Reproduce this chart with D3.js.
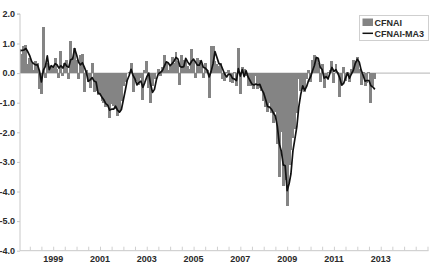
<!DOCTYPE html>
<html><head><meta charset="utf-8">
<script src="https://cdn.jsdelivr.net/npm/d3@7"></script>
<style>body{margin:0;background:#fff}svg{display:block}text{font-family:"Liberation Sans",Arial,sans-serif;font-weight:bold;fill:#2a2a2a}</style>
</head><body><svg id="c" width="437" height="266"></svg>
<script>
// monthly data, first value = Aug 1997, last = Oct 2012
const startYear = 1997, startMonth = 7; // 0-based month (Aug)
const cfnai = [
  0.80, 0.65, 0.90, 0.95, 0.30,
  0.50, 0.35, 0.10, 0.40, 0.35, -0.55, -0.70, 1.55, -0.15, 0.35, 0.15, 0.25,
  0.20, 0.50, 0.15, -0.15, 0.75, -0.10, 0.35, 0.45, -0.20, 1.10, 0.55, 0.85,
  0.45, -0.20, 0.60, 0.65, -0.65, 0.10, -0.30, -0.50, 0.35, -0.65, -0.60, -0.75,
  -0.75, -0.95, -1.00, -1.15, -1.10, -1.50, -1.05, -1.10, -1.20, -1.45, -1.30, -0.95,
  -0.45, -0.30, 0.00, 0.05, 0.35, -0.65, -0.30, -0.25, -0.40, -0.15, -0.90, 0.10,
  0.40, -0.50, -1.00, -0.45, -0.20, 0.00, 0.15, -0.10, 0.20, 0.60, 0.35, 0.10,
  0.30, 0.55, 0.35, 0.70, 0.40, -0.40, 0.60, 0.45, 0.45, 0.25, 0.15, 0.80,
  0.45, -0.15, 0.50, 0.45, 0.30, -0.15, 0.35, 0.10, -0.85, 0.90, 0.90, 0.40,
  0.30, 0.25, 0.35, -0.20, -0.25, 0.05, 0.10, -0.30, -0.35, 0.05, -0.45, 0.85,
  -0.70, 0.20, 0.15, -0.10, -0.45, -0.20, -0.45, -0.55, -0.10, -0.55, -0.50, -0.60,
  -0.95, -1.15, -1.30, -1.00, -1.35, -1.70, -1.30, -2.40, -3.50, -2.00, -3.80, -3.60,
  -4.50, -3.10, -2.60, -2.20, -1.90, -1.35, -0.20, -0.60, -0.50, -0.65, -0.20, 0.10,
  -0.30, 0.45, 0.60, 0.55, 0.35, -0.30, 0.30, -0.50, -0.15, 0.05, 0.10, 0.42,
  -0.35, 0.30, 0.05, -0.80, -0.45, 0.20, -0.25, 0.05, -0.30, 0.15, 0.45, 0.40,
  0.55, 0.15, -0.40, 0.05, -0.45, -0.35, 0.05, -1.00, -0.45, -0.20
];
const cfnaiMA3 = [
  0.75, 0.77, 0.78, 0.83, 0.72,
  0.58, 0.38, 0.32, 0.28, 0.28, 0.07, -0.30, 0.10, 0.23, 0.58, 0.12, 0.25,
  0.20, 0.32, 0.28, 0.17, 0.25, 0.17, 0.33, 0.23, 0.20, 0.45, 0.48, 0.83,
  0.62, 0.37, 0.28, 0.35, 0.20, 0.03, -0.28, -0.23, -0.15, -0.27, -0.30, -0.67,
  -0.70, -0.82, -0.90, -1.03, -1.08, -1.25, -1.22, -1.22, -1.12, -1.25, -1.32, -1.23,
  -0.90, -0.57, -0.25, -0.08, 0.13, -0.08, -0.20, -0.40, -0.32, -0.27, -0.48, -0.32,
  -0.13, 0.00, -0.37, -0.65, -0.55, -0.22, -0.02, 0.02, 0.08, 0.23, 0.38, 0.35,
  0.25, 0.32, 0.40, 0.53, 0.48, 0.23, 0.20, 0.22, 0.50, 0.38, 0.28, 0.40,
  0.47, 0.37, 0.27, 0.27, 0.42, 0.20, 0.17, 0.10, -0.13, 0.05, 0.32, 0.73,
  0.53, 0.32, 0.30, 0.13, -0.03, -0.13, -0.03, -0.05, -0.18, -0.20, -0.25, 0.15,
  -0.10, 0.12, -0.12, 0.08, -0.13, -0.25, -0.37, -0.40, -0.37, -0.40, -0.38, -0.55,
  -0.68, -0.90, -1.13, -1.15, -1.22, -1.35, -1.45, -1.80, -2.40, -2.63, -3.10, -3.13,
  -3.97, -3.73, -3.40, -2.63, -2.23, -1.82, -1.15, -0.72, -0.43, -0.58, -0.45, -0.25,
  -0.13, 0.08, 0.25, 0.53, 0.50, 0.20, 0.12, -0.17, -0.12, -0.20, 0.00, 0.19,
  0.06, 0.12, 0.00, -0.15, -0.40, -0.35, -0.17, 0.00, -0.17, -0.03, 0.10, 0.33,
  0.47, 0.37, 0.10, -0.07, -0.27, -0.25, -0.25, -0.43, -0.47, -0.55
];
const yTickValues = [2, 1, 0, -1, -2, -3, -4, -5, -6];
const yTickLabels = ["2.0", "1.0", "0.0", "-1.0", "-2.0", "-3.0", "-4.0", "-5.0", "-4.0"];
const xLabelYears = [1999, 2001, 2003, 2005, 2007, 2009, 2011, 2013];
const legendLabels = ["CFNAI", "CFNAI-MA3"];

const svg = d3.select("#c");
const L = 20, R = 427.5, T = 13.9, B = 250.7;
const x = d3.scaleUtc().domain([new Date(Date.UTC(1997, 7, 1)), new Date(Date.UTC(2015, 0, 1))]).range([L, R]);
const y = d3.scaleLinear().domain([-6, 2]).range([B, T]);
const dates = cfnai.map((_, i) => new Date(Date.UTC(startYear, startMonth + i, 1)));
const nextDates = cfnai.map((_, i) => new Date(Date.UTC(startYear, startMonth + i + 1, 1)));

svg.append("defs").append("clipPath").attr("id", "clip")
  .append("rect").attr("x", L).attr("y", 0).attr("width", R - L + 3).attr("height", 266);

// zero line
svg.append("line").attr("x1", L).attr("x2", 430).attr("y1", y(0)).attr("y2", y(0))
  .attr("stroke", "#b4b4b4").attr("stroke-width", 1);

// bars: each spans from the middle of the previous month gap to the next, so they touch
const half = (i) => (x(nextDates[i]) - x(dates[i])) / 2;
svg.append("g").attr("clip-path", "url(#clip)").attr("shape-rendering", "crispEdges")
  .selectAll("rect").data(cfnai).join("rect")
  .attr("x", (d, i) => Math.floor(x(dates[i]) - half(i)))
  .attr("width", (d, i) => Math.ceil(x(dates[i]) + half(i)) - Math.floor(x(dates[i]) - half(i)))
  .attr("y", d => y(Math.max(0, d)))
  .attr("height", d => Math.abs(y(d) - y(0)))
  .attr("fill", "#848484");

// MA3 line
svg.append("path").attr("clip-path", "url(#clip)")
  .datum(cfnaiMA3)
  .attr("d", d3.line().x((d, i) => x(dates[i])).y(d => y(d)))
  .attr("fill", "none").attr("stroke", "#111").attr("stroke-width", 1.7).attr("stroke-linejoin", "round");

// y axis
const yAxis = d3.axisLeft(y).tickValues(yTickValues).tickSize(3).tickPadding(2)
  .tickFormat((d, i) => yTickLabels[i]);
const gy = svg.append("g").attr("transform", `translate(${L},0)`).call(yAxis);
gy.select(".domain").attr("stroke", "#c8c8c8").attr("d", `M-3,${T}H0V${B}`);
gy.selectAll(".tick line").attr("stroke", "#c8c8c8");
gy.selectAll(".tick text").attr("font-size", 9).attr("font-weight", "bold").attr("fill", "#2a2a2a")
  .attr("font-family", '"Liberation Sans",Arial,sans-serif');

// x axis
const halfYears = d3.utcMonth.every(6).range(new Date(Date.UTC(1998, 0, 1)), new Date(Date.UTC(2015, 1, 1)));
const xAxis = d3.axisTop(x).tickValues(halfYears).tickSize(4).tickFormat("");
const gx = svg.append("g").attr("transform", `translate(0,${B})`).call(xAxis);
gx.select(".domain").attr("stroke", "#c8c8c8").attr("d", `M${L},0H${R + 1}`);
gx.selectAll(".tick line").attr("stroke", "#cfcfcf");
svg.append("g").selectAll("text").data(xLabelYears).join("text")
  .attr("x", d => x(new Date(Date.UTC(d, 0, 1))))
  .attr("y", 261.5)
  .attr("text-anchor", "middle").attr("font-size", 9)
  .text(d => d);

// legend
const lg = svg.append("g");
lg.append("rect").attr("x", 359.5).attr("y", 15.5).attr("width", 69).attr("height", 25)
  .attr("fill", "#fff").attr("stroke", "#cfcfcf");
lg.append("rect").attr("x", 362.5).attr("y", 18.5).attr("width", 10.5).attr("height", 7.5).attr("fill", "#848484");
lg.append("line").attr("x1", 362.5).attr("x2", 373).attr("y1", 33.3).attr("y2", 33.3)
  .attr("stroke", "#111").attr("stroke-width", 1.5);
lg.append("text").attr("x", 374.5).attr("y", 25.7).attr("font-size", 9).text(legendLabels[0]);
lg.append("text").attr("x", 374.5).attr("y", 36.5).attr("font-size", 9).text(legendLabels[1]);
</script></body></html>
